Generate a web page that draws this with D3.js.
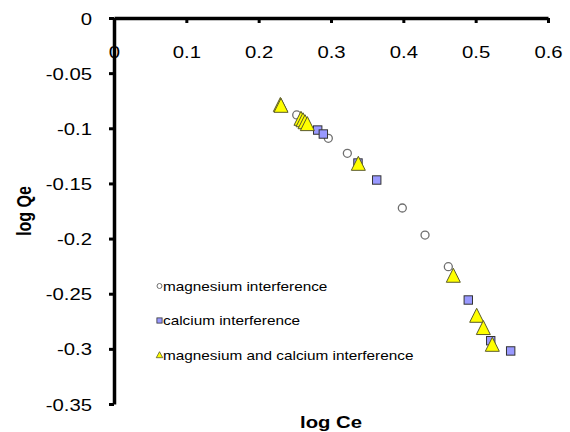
<!DOCTYPE html>
<html>
<head>
<meta charset="utf-8">
<script src="https://cdn.jsdelivr.net/npm/d3@7"></script>
<style>
  body { margin: 0; background: #fff; }
  svg { display: block; font-family: "Liberation Sans", Arial, sans-serif; }
</style>
</head>
<body>
<svg id="chart" width="570" height="432"></svg>
<script>
// Freundlich plot: log Qe against log Ce under interfering ions
const xTickValues = [0, 0.1, 0.2, 0.3, 0.4, 0.5, 0.6];
const yTickValues = [0, -0.05, -0.1, -0.15, -0.2, -0.25, -0.3, -0.35];
const seriesNames = ["magnesium interference", "calcium interference", "magnesium and calcium interference"];

const magnesiumLogCe = [0.2526, 0.2963, 0.3226, 0.3986, 0.4300, 0.4622];
const magnesiumLogQe = [-0.0879, -0.1091, -0.1227, -0.1723, -0.1968, -0.2255];

const calciumLogCe = [0.2816, 0.2894, 0.3373, 0.3632, 0.4898, 0.5208, 0.5484];
const calciumLogQe = [-0.1016, -0.1052, -0.1315, -0.1469, -0.2557, -0.2926, -0.3019];

const bothLogCe = [0.2300, 0.2309, 0.2585, 0.2613, 0.2641, 0.2673, 0.3378, 0.4691, 0.5014, 0.5106, 0.5230];
const bothLogQe = [-0.0790, -0.0798, -0.0916, -0.0929, -0.0947, -0.0964, -0.1324, -0.2339, -0.2702, -0.2813, -0.2965];

const svg = d3.select("#chart");
const stretch = 1.27;

const x = d3.scaleLinear().domain([0, 0.6]).range([114, 548]);
const y = d3.scaleLinear().domain([0, -0.35]).range([18, 404]);

// x axis sits along log Qe = 0, ticks pointing down into the plot
const xAxisG = svg.append("g")
  .attr("transform", `translate(0,${y(0)})`)
  .call(d3.axisBottom(x).tickValues(xTickValues).tickSize(5).tickSizeOuter(0)
    .tickFormat(d => String(+d.toFixed(2))));
xAxisG.select(".domain").attr("stroke", "#000").attr("stroke-width", 3.5);
xAxisG.selectAll(".tick line").attr("stroke", "#000").attr("stroke-width", 3);
xAxisG.selectAll(".tick text")
  .attr("x", 0).attr("y", 0).attr("dy", null)
  .attr("transform", `translate(0,40) scale(${stretch},1)`)
  .attr("font-size", 16).attr("fill", "#000")
  .attr("font-family", "Liberation Sans, Arial, sans-serif")
  .attr("text-anchor", "middle");

// y axis at log Ce = 0, ticks pointing left
const yAxisG = svg.append("g")
  .attr("transform", `translate(${x(0)},0)`)
  .call(d3.axisLeft(y).tickValues(yTickValues).tickSize(5).tickSizeOuter(0)
    .tickFormat(d => String(+d.toFixed(2))));
yAxisG.select(".domain").attr("stroke", "#000").attr("stroke-width", 3.5);
yAxisG.selectAll(".tick line").attr("stroke", "#000").attr("stroke-width", 3);
yAxisG.selectAll(".tick text")
  .attr("x", 0).attr("y", 0).attr("dy", null)
  .attr("transform", `translate(-22,6) scale(${stretch},1)`)
  .attr("font-size", 16).attr("fill", "#000")
  .attr("font-family", "Liberation Sans, Arial, sans-serif")
  .attr("text-anchor", "end");

// axis titles
svg.append("text")
  .attr("transform", `translate(${(x(0) + x(0.6)) / 2},428) scale(${stretch},1)`)
  .attr("text-anchor", "middle").attr("font-weight", "bold").attr("font-size", 16)
  .text("log Ce");
svg.append("text")
  .attr("transform", `translate(31,${(y(0) + y(-0.35)) / 2}) scale(${stretch},1) rotate(-90)`)
  .attr("text-anchor", "middle").attr("font-weight", "bold").attr("font-size", 16)
  .text("log Qe");

const triPath = (w, h) => `M0,${-h * 0.55}L${w / 2},${h * 0.45}L${-w / 2},${h * 0.45}Z`;

// magnesium interference: open circles
svg.append("g").selectAll("circle")
  .data(d3.zip(magnesiumLogCe, magnesiumLogQe))
  .join("circle")
  .attr("cx", d => x(d[0])).attr("cy", d => y(d[1])).attr("r", 4)
  .attr("fill", "#fff").attr("stroke", "#6f6f6f").attr("stroke-width", 1.3);

// calcium interference: lavender squares
svg.append("g").selectAll("rect")
  .data(d3.zip(calciumLogCe, calciumLogQe))
  .join("rect")
  .attr("x", d => x(d[0]) - 4.2).attr("y", d => y(d[1]) - 4.2)
  .attr("width", 8.4).attr("height", 8.4)
  .attr("fill", "#9999ff").attr("stroke", "#333333").attr("stroke-width", 1);

// both ions: yellow triangles
svg.append("g").selectAll("path")
  .data(d3.zip(bothLogCe, bothLogQe))
  .join("path")
  .attr("transform", d => `translate(${x(d[0])},${y(d[1])})`)
  .attr("d", triPath(14, 14))
  .attr("fill", "#ffff00").attr("stroke", "#5a5a2a").attr("stroke-width", 1);

// legend
const legendRows = [286, 320.5, 355];
const legend = svg.append("g");
legendRows.forEach((ly, i) => {
  const lx = 159.5;
  if (i === 0) {
    legend.append("circle").attr("cx", lx).attr("cy", ly).attr("r", 2.5)
      .attr("fill", "#fff").attr("stroke", "#6f6f6f").attr("stroke-width", 1);
  } else if (i === 1) {
    legend.append("rect").attr("x", lx - 2.6).attr("y", ly - 2.6).attr("width", 5.2).attr("height", 5.2)
      .attr("fill", "#9999ff").attr("stroke", "#333333").attr("stroke-width", 0.8);
  } else {
    legend.append("path").attr("transform", `translate(${lx},${ly})`).attr("d", triPath(6.5, 6))
      .attr("fill", "#ffff00").attr("stroke", "#5a5a2a").attr("stroke-width", 0.8);
  }
  legend.append("text")
    .attr("transform", `translate(163,${ly + 4.5}) scale(1.18,1)`)
    .attr("font-size", 13).attr("fill", "#000")
    .text(seriesNames[i]);
});
</script>
</body>
</html>
